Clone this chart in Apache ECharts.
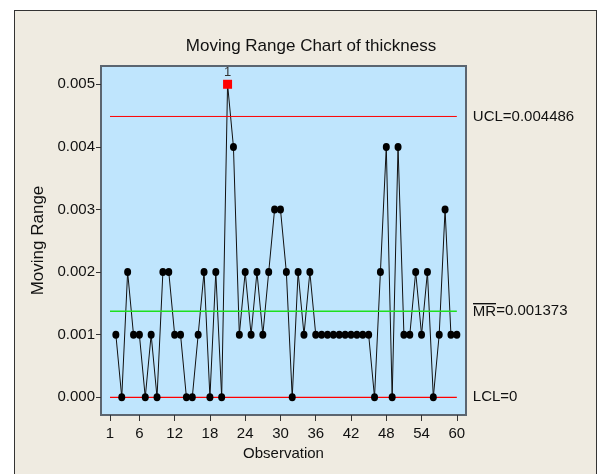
<!DOCTYPE html>
<html>
<head>
<meta charset="utf-8">
<script src="https://cdn.jsdelivr.net/npm/echarts@6/dist/echarts.min.js"></script>
<style>
html,body{margin:0;padding:0;background:#ffffff;}
#frame{position:absolute;left:14px;top:10px;width:581px;height:480px;background:#EFEBE1;border:1px solid #333;}
#chart{position:absolute;left:0;top:0;width:602px;height:474px;}
</style>
</head>
<body>
<div id="frame"></div>
<div id="chart"></div>
<script>
// Observation numbers (moving range starts at observation 2)
var observations = [2,3,4,5,6,7,8,9,10,11,12,13,14,15,16,17,18,19,20,21,22,23,24,25,26,27,28,29,30,31,
  32,33,34,35,36,37,38,39,40,41,42,43,44,45,46,47,48,49,50,51,52,53,54,55,56,57,58,59,60];
var movingRange = [0.001,0,0.002,0.001,0.001,0,0.001,0,0.002,0.002,0.001,0.001,0,0,0.001,0.002,0,0.002,0,0.005,
  0.004,0.001,0.002,0.001,0.002,0.001,0.002,0.003,0.003,0.002,
  0,0.002,0.001,0.002,0.001,0.001,0.001,0.001,0.001,0.001,0.001,0.001,0.001,0.001,
  0,0.002,0.004,0,0.004,0.001,0.001,0.002,0.001,0.002,0,0.001,0.003,0.001,0.001];
var xTicks = [1,6,12,18,24,30,36,42,48,54,60];
var yTicks = [0,0.001,0.002,0.003,0.004,0.005];
var limitSpan = [1, 60]; // control limits drawn from first to last observation
var UCL = 0.004486, MRbar = 0.001373, LCL = 0;
var outOfControl = [21]; // observations flagged with test 1

var FONT = 'Liberation Sans';

// small image used to draw the bar over "MR"
var ovCanvas = document.createElement('canvas');
ovCanvas.width = 4; ovCanvas.height = 16;
var octx = ovCanvas.getContext('2d');
octx.fillStyle = '#111';
octx.fillRect(0, 0, 4, 1);

var linePts = observations.map(function(o, i){ return [o, movingRange[i]]; });
var dotPts = observations.map(function(o, i){
  var item = {value:[o, movingRange[i]]};
  if (outOfControl.indexOf(o) >= 0) {
    item.symbol = 'rect';
    item.symbolSize = 9;
    item.itemStyle = {color:'#FF0000'};
    item.label = {show:true, position:'top', distance:1, formatter:'1', color:'#333', fontSize:13, fontFamily:FONT};
  }
  return item;
});

function limitSeries(name, v, label, color, width, z){
  return {
    type:'line', name:name, silent:true, z:z,
    data:limitSpan.map(function(x){return [x, v];}),
    symbol:'none',
    itemStyle:{color:color},
    lineStyle:{color:color, width:width},
    emphasis:{disabled:true},
    endLabel:{show:true, distance:16, color:'#111', fontSize:15, fontFamily:FONT,
      formatter:label,
      rich:{ov:{fontSize:15, fontFamily:FONT, color:'#111', backgroundColor:{image:ovCanvas}, padding:[1,0,0,0]}}}
  };
}

var chart = echarts.init(document.getElementById('chart'), null, {renderer:'canvas'});
chart.setOption({
  backgroundColor:'transparent',
  animation:false,
  title:{
    text:'Moving Range Chart of thickness',
    left:306, top:33, textAlign:'center',
    textStyle:{fontFamily:FONT, fontSize:17, fontWeight:'normal', color:'#111'}
  },
  grid:{
    left:101, top:66, right:136, bottom:59,
    show:true, backgroundColor:'#BFE5FD', borderColor:'#5B6570', borderWidth:2
  },
  xAxis:{
    type:'value', min:-0.53, max:61.56,
    name:'Observation', nameLocation:'middle', nameGap:31,
    nameTextStyle:{fontFamily:FONT, fontSize:15, color:'#111'},
    splitLine:{show:false},
    axisLine:{show:false, onZero:false, lineStyle:{color:'rgba(0,0,0,0)'}},
    axisTick:{show:true, inside:false, length:6, customValues:xTicks, lineStyle:{color:'#333'}},
    axisLabel:{customValues:xTicks, margin:11, fontFamily:FONT, fontSize:15, color:'#111'}
  },
  yAxis:{
    type:'value', min:-0.000283, max:0.005292,
    name:'Moving Range', nameLocation:'middle', nameGap:54,
    nameTextStyle:{fontFamily:FONT, fontSize:17, color:'#111'},
    splitLine:{show:false},
    axisLine:{show:false, onZero:false, lineStyle:{color:'rgba(0,0,0,0)'}},
    axisTick:{show:true, inside:false, length:5, customValues:yTicks, lineStyle:{color:'#333'}},
    axisLabel:{customValues:yTicks, margin:6, fontFamily:FONT, fontSize:15, color:'#111',
      formatter:function(v){return v.toFixed(3);}}
  },
  series:[
    {
      type:'line', name:'MR line', silent:true, z:5,
      data:linePts,
      symbol:'none',
      lineStyle:{color:'#111', width:1}
    },
    limitSeries('UCL', UCL, 'UCL=0.004486', '#FF0000', 1, 6),
    limitSeries('MR', MRbar, '{ov|MR}=0.001373', '#1EE01E', 1.5, 6),
    limitSeries('LCL', LCL, 'LCL=0', '#FF0000', 1.3, 6),
    {
      type:'scatter', name:'MR points', silent:true, z:7,
      data:dotPts,
      symbol:'circle',
      symbolSize:[7,8],
      itemStyle:{color:'#000', opacity:1}
    }
  ]
});
</script>
</body>
</html>
